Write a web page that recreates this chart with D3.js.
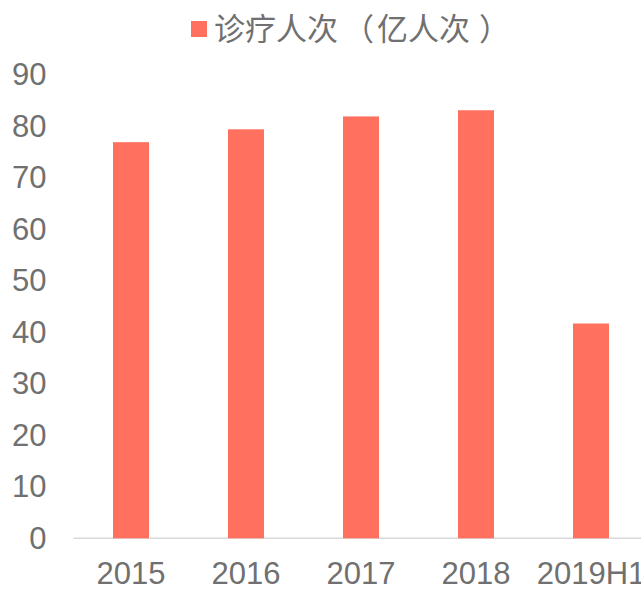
<!DOCTYPE html>
<html>
<head>
<meta charset="utf-8">
<script src="https://cdn.jsdelivr.net/npm/d3@7"></script>
<style>
  body { margin: 0; background: #fff; }
  svg { display: block; font-family: "Liberation Sans", Arial, "Noto Sans CJK SC", sans-serif; }
</style>
</head>
<body>
<svg id="chart" width="641" height="589"></svg>
<script>
var categories = ["2015", "2016", "2017", "2018", "2019H1"];
var visits = [76.9, 79.4, 81.9, 83.1, 41.7];
var yTicks = [0, 10, 20, 30, 40, 50, 60, 70, 80, 90];
var seriesName = ["诊疗人次", "（", "亿人次", "）"];

var data = categories.map(function(c, i) { return {year: c, value: visits[i]}; });

var svg = d3.select("#chart"),
    margin = {top: 74.7, right: 0, bottom: 50.7, left: 73.5},
    height = +svg.attr("height") - margin.top - margin.bottom;

var barColor = "#ff715e",
    textColor = "#707070";

var x = d3.scaleBand()
    .domain(categories)
    .range([margin.left, margin.left + 575])
    .paddingInner(0.687)
    .paddingOuter(0.3435);

var y = d3.scaleLinear()
    .domain([0, 90])
    .range([margin.top + height, margin.top]);

// baseline
svg.append("line")
    .attr("x1", margin.left)
    .attr("x2", 641)
    .attr("y1", y(0))
    .attr("y2", y(0))
    .attr("stroke", "#d9d9d9")
    .attr("stroke-width", 1.5);

// y axis (labels only)
var yAxis = svg.append("g")
    .attr("transform", "translate(" + (margin.left - 17) + ",0)")
    .call(d3.axisLeft(y).tickValues(yTicks).tickSize(0).tickPadding(10));
yAxis.select(".domain").remove();
yAxis.selectAll("text")
    .attr("font-size", 31)
    .attr("font-family", "Liberation Sans, Arial, sans-serif")
    .attr("fill", textColor);

// x axis (labels only)
var xAxis = svg.append("g")
    .attr("transform", "translate(0," + y(0) + ")")
    .call(d3.axisBottom(x).tickSize(0).tickPadding(24));
xAxis.select(".domain").remove();
xAxis.selectAll("text")
    .attr("font-size", 31)
    .attr("font-family", "Liberation Sans, Arial, sans-serif")
    .attr("fill", textColor);

// bars
svg.append("g").selectAll("rect")
    .data(data)
  .enter().append("rect")
    .attr("x", function(d) { return x(d.year); })
    .attr("y", function(d) { return y(d.value); })
    .attr("width", x.bandwidth())
    .attr("height", function(d) { return y(0) - y(d.value); })
    .attr("fill", barColor);

// legend
var legend = svg.append("g").attr("transform", "translate(191,21)");
legend.append("rect")
    .attr("width", 16)
    .attr("height", 16)
    .attr("fill", barColor);
var legendText = legend.append("text")
    .attr("x", 23)
    .attr("y", 8)
    .attr("dy", "0.36em")
    .attr("font-size", 31)
    .attr("font-family", "Noto Sans CJK SC, sans-serif")
    .attr("fill", textColor);
var gaps = [0, 5, 3, 9];
legendText.selectAll("tspan")
    .data(seriesName)
  .enter().append("tspan")
    .attr("dx", function(d, i) { return gaps[i]; })
    .text(function(d) { return d; });
</script>
</body>
</html>
